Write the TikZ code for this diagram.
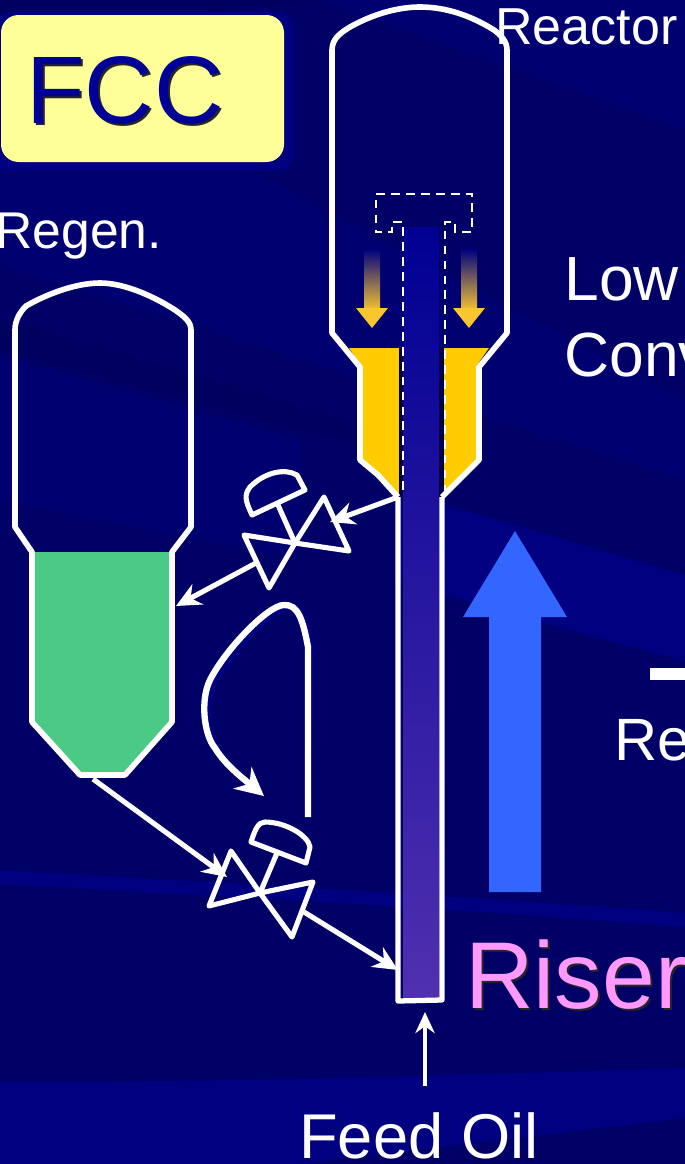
\documentclass[tikz,border=0pt]{standalone}
\usepackage{fontspec}
\setmainfont{Liberation Sans}
\usepackage{xcolor}
\usetikzlibrary{arrows.meta,positioning,calc}
\definecolor{bgdark}{HTML}{000066}
\definecolor{bgmid}{HTML}{000070}
\definecolor{bgband}{HTML}{000080}
\definecolor{bgnight}{HTML}{00005E}
\definecolor{catyellow}{HTML}{FFCC00}
\definecolor{catgreen}{HTML}{4ACA85}
\definecolor{fccyellow}{HTML}{FFFF99}
\definecolor{fccblue}{HTML}{000099}
\definecolor{flowblue}{HTML}{3366FF}
\definecolor{riserpink}{HTML}{FF99FF}
\definecolor{risertop}{HTML}{000092}
\definecolor{riserlow}{HTML}{5030B0}
\definecolor{fallgold}{HTML}{F8C62E}
\begin{document}
\begin{tikzpicture}[
  x=0.02cm, y=-0.02cm,
  vessel/.style={draw=white, line width=3.2pt, line join=round},
  valve/.style={draw=white, line width=2.9pt, line join=round},
  arrow/.style={-{Stealth[length=14pt,width=13pt]}, draw=white, line width=2.9pt},
  label/.style={inner sep=0pt, text=white, anchor=base west},
  fall/.style={top color=bgband, bottom color=fallgold, draw=none},
  circulation/.style={-{Stealth[length=16pt,width=16pt]}, line width=3.6pt}
]
  \useasboundingbox (0,0) rectangle (685,1164);
  \clip (0,0) rectangle (685,1164);

  % Backdrop
  \fill[bgdark] (0,0) rectangle (685,1164);
  \fill[bgnight] (0,0) -- (330,0) -- (120,20) -- (0,15) -- cycle;
  \fill[bgmid] (320,0) -- (685,0) -- (685,130) -- cycle;
  \fill[bgmid] (0,170) -- (240,165) -- (685,400) -- (685,480) -- (0,265) -- cycle;
  \fill[bgnight] (0,318) -- (450,450) -- (450,470) -- (0,350) -- cycle;
  \fill[bgmid] (0,355) -- (300,440) -- (300,560) -- (0,500) -- cycle;
  \fill[bgband] (395,490) -- (685,575) -- (685,661) -- (524,618) -- (395,580) -- cycle;
  \fill[bgband] (0,870) .. controls (250,885) and (450,895) .. (685,913) -- (685,927) .. controls (450,908) and (250,898) .. (0,884) -- cycle;
  \fill[bgband] (0,1082) .. controls (250,1082) and (450,1075) .. (685,1068) -- (685,1118) -- (300,1164) -- (0,1164) -- cycle;

  % FCC badge
  \fill[bgband, rounded corners=10pt] (-8,12) rectangle (294,171);
  \fill[fccyellow, rounded corners=10pt] (1,15) rectangle (284,162);
  \node[label, text=black!85, font=\fontsize{54.6}{55}\selectfont] (fccshadow) at (28,125) {FCC};
  \node[label, text=fccblue, font=\fontsize{54.6}{55}\selectfont] (fcc) at (26,123) {FCC};

  % Catalyst beds
  \fill[catyellow] (349,348) -- (399,348) -- (399,495) -- (378,475) -- (362,460) -- (362,367) -- cycle;
  \fill[catyellow] (442,348) -- (489,348) -- (477,365) -- (477,460) -- (442,497) -- cycle;
  \fill[catgreen] (32,552) -- (172,552) -- (172,722) -- (125,775) -- (80,775) -- (32,722) -- cycle;

  % Riser
  \fill[bgdark!70!black] (399,348) rectangle (444,500);
  \shade[top color=risertop, bottom color=riserlow] (403,227) rectangle (439,998);

  % Reactor
  \coordinate (reactorleft) at (398,497);
  \coordinate (reactorright) at (442,497);
  \coordinate (riserleft) at (398,970);
  \coordinate (riserfoot) at (425,1012);
  \draw[vessel] (reactorleft) -- (378,475) -- (360,460) -- (360,367) -- (332,333) -- (332,50)
    .. controls (332,38) and (342,32) .. (350,27) .. controls (375,13) and (400,7) .. (420,7)
    .. controls (445,7) and (470,15) .. (494,30) .. controls (502,36) and (507,42) .. (507,50)
    -- (507,333) -- (479,367) -- (479,460) -- (reactorright);
  \draw[vessel, line width=3pt] (reactorleft) -- (398,1001) -- (442,1000) -- (reactorright);
  \draw[draw=white, line width=1.5pt, dash pattern=on 5pt off 3.5pt] (403,490) -- (403,222) -- (392,222) -- (392,232) -- (376,232) -- (376,194)
    -- (472,194) -- (472,232) -- (455,232) -- (455,222) -- (445,222) -- (445,490);

  % Falling catalyst
  \shade[fall] (364,249) rectangle (380,311);
  \shade[fall] (461,249) rectangle (477,311);
  \fill[fallgold] (388,308) -- (372,328) -- (356,308) -- cycle;
  \fill[fallgold] (485,308) -- (469,328) -- (453,308) -- cycle;

  % Regenerator
  \coordinate (regenwall) at (176,606);
  \coordinate (regenfoot) at (93,779);
  \draw[vessel] (32,552) -- (15,527) -- (15,330) .. controls (15,320) and (20,312) .. (26,306)
    .. controls (45,295) and (75,283) .. (100,283) .. controls (125,283) and (155,297) .. (175,310)
    .. controls (185,317) and (191,322) .. (191,330) -- (191,527) -- (172,552) -- (172,722)
    -- (125,775) -- (80,775) -- (32,722) -- cycle;

  % Spent valve
  \coordinate (spentcentre) at (295,543);
  \coordinate (spentin) at (330,522);
  \coordinate (spentout) at (256,563);
  \draw[valve] (spentcentre) -- (244,535) -- (269,588) -- cycle;
  \draw[valve] (spentcentre) -- (324,497) -- (349,551) -- cycle;
  \draw[valve] (spentcentre) -- (278,505);
  \draw[valve] (252,515) -- (305,490) -- (297,475) .. controls (285,468) and (265,472) .. (250,487) .. controls (244,495) and (245,500) .. cycle;

  % Regenerated valve
  \coordinate (regencentre) at (260,893);
  \coordinate (regenin) at (227,877);
  \coordinate (regenout) at (304,912);
  \draw[valve] (regencentre) -- (231,851) -- (209,906) -- cycle;
  \draw[valve] (regencentre) -- (313,882) -- (292,937) -- cycle;
  \draw[valve] (regencentre) -- (277,853);
  \draw[valve] (251,842) -- (306,863) -- (310,847) .. controls (308,835) and (285,822) .. (265,822) .. controls (258,822) and (255,830) .. cycle;

  \draw[arrow] (reactorleft) -- (spentin);
  \draw[arrow] (spentout) -- (regenwall);
  \draw[arrow] (regenfoot) -- (regenin);
  \draw[arrow] (regenout) -- (riserleft);

  % Circulation
  \coordinate (circstart) at (308,817);
  \coordinate (circend) at (264,796);
  \draw[circulation, draw=bgband, xshift=2.5pt, yshift=-1.5pt] (circstart) -- (308,647) .. controls (303,620) and (298,604) .. (284,605) .. controls (268,605) and (225,650) .. (210,680) .. controls (200,700) and (204,735) .. (215,748) .. controls (225,765) and (245,780) .. (circend);
  \draw[circulation, draw=white] (circstart) -- (308,647) .. controls (303,620) and (298,604) .. (284,605) .. controls (268,605) and (225,650) .. (210,680) .. controls (200,700) and (204,735) .. (215,748) .. controls (225,765) and (245,780) .. (circend);

  % Feed
  \coordinate (feedstart) at (425,1086);
  \draw[-{Stealth[length=12pt,width=11pt]}, draw=white, line width=2.8pt] (feedstart) -- (riserfoot);

  % Flow direction
  \fill[flowblue] (489,892) -- (541,892) -- (541,617) -- (567,617) -- (515,531) -- (463,617) -- (489,617) -- cycle;

  \coordinate (stubstart) at (650,674);
  \coordinate (stubend) at (685,674);
  \draw[draw=white, line width=6.6pt] (stubstart) -- (stubend);

  % Labels
  \node[label, font=\fontsize{29.6}{30}\selectfont] (reactor) at (495,44) {Reactor};
  \node[label, font=\fontsize{29.4}{30}\selectfont] (regen) at (-5,248) {Regen.};
  \node[label, font=\fontsize{35.5}{36}\selectfont] (low) at (564,300) {Low};
  \node[label, font=\fontsize{35.5}{36}\selectfont] (conv) at (564,376) {Conv};
  \node[label, font=\fontsize{34}{36}\selectfont] (re) at (614,760) {Re};
  \node[label, text=black!85, font=\fontsize{54}{54}\selectfont] (risershadow) at (467,1010) {Riser};
  \node[label, text=riserpink, font=\fontsize{54}{54}\selectfont] (riser) at (465,1008) {Riser};
  \node[label, font=\fontsize{36}{36}\selectfont] (feed) at (299,1158) {Feed Oil};
\end{tikzpicture}
\end{document}
